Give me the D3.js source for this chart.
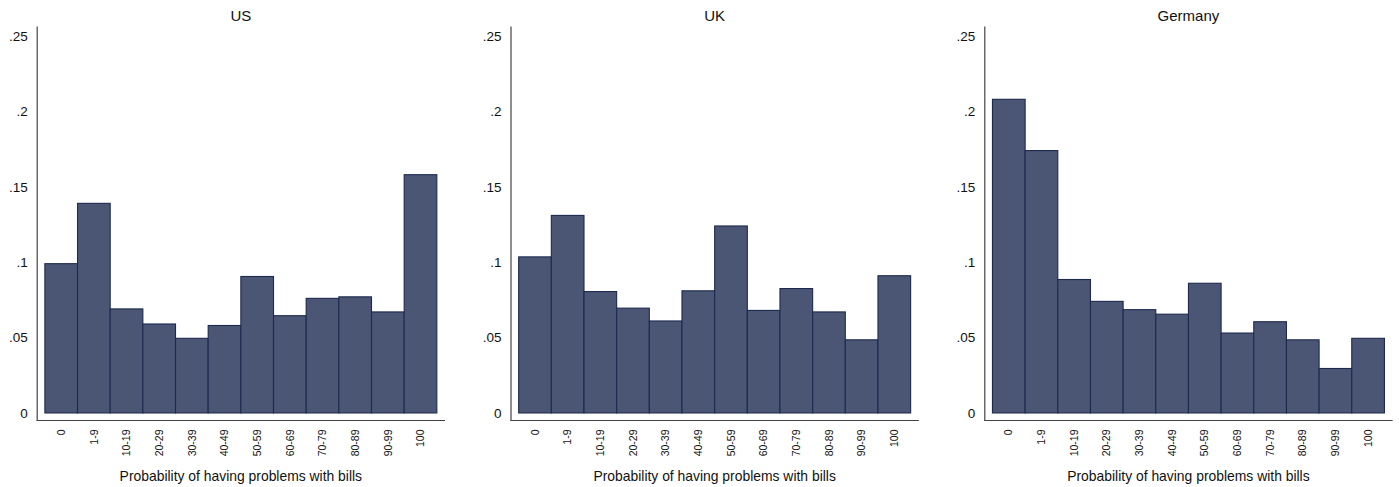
<!DOCTYPE html>
<html>
<head>
<meta charset="utf-8">
<script src="https://cdn.jsdelivr.net/npm/d3@7"></script>
<style>
  html, body { margin: 0; padding: 0; background: #fff; }
  svg { display: block; font-family: "Liberation Sans", Arial, Helvetica, sans-serif; }
</style>
</head>
<body>
<script>
// Share of respondents in each stated-probability bin
const categories = ["0", "1-9", "10-19", "20-29", "30-39", "40-49", "50-59", "60-69", "70-79", "80-89", "90-99", "100"];
const countries = ["US", "UK", "Germany"];
const usValues = [0.099, 0.139, 0.069, 0.059, 0.0495, 0.058, 0.0905, 0.0645, 0.076, 0.077, 0.067, 0.158];
const ukValues = [0.1035, 0.131, 0.0805, 0.0695, 0.061, 0.081, 0.124, 0.068, 0.0825, 0.067, 0.0485, 0.091];
const deValues = [0.208, 0.174, 0.0885, 0.074, 0.0685, 0.0655, 0.086, 0.053, 0.0605, 0.0485, 0.0295, 0.0495];
const yTicks = [0, 0.05, 0.1, 0.15, 0.2, 0.25];
const xTitle = "Probability of having problems with bills";

const seriesByCountry = [usValues, ukValues, deValues];

const W = 1399, H = 487;
const panelStep = 473.8;
const plotLeft = 36.7, plotWidth = 408.3;
const plotTop = 26, plotBottom = 420.5;

const fillColor = "#4b5675";
const edgeColor = "#1d2a4e";
const axisColor = "#444";

const svg = d3.select("body").append("svg")
  .attr("width", W).attr("height", H);

// Y spans slightly past the tick range on both ends
const y = d3.scaleLinear()
  .domain([-0.005, 0.2566])
  .range([plotBottom, plotTop]);

const fmt = v => v === 0 ? "0" : d3.format("")(v).replace(/^0\./, ".");

countries.forEach((name, i) => {
  const values = seriesByCountry[i];
  const g = svg.append("g")
    .attr("transform", `translate(${plotLeft + i * panelStep},0)`);

  const x = d3.scaleBand()
    .domain(categories)
    .range([0, plotWidth])
    .paddingInner(0)
    .paddingOuter(0.25);

  // bars
  g.append("g").selectAll("rect")
    .data(values)
    .join("rect")
    .attr("x", (d, j) => x(categories[j]))
    .attr("y", d => y(d))
    .attr("width", x.bandwidth())
    .attr("height", d => y(0) - y(d))
    .attr("fill", fillColor)
    .attr("stroke", edgeColor)
    .attr("stroke-width", 1.1);

  // y axis
  const yAxis = d3.axisLeft(y).tickValues(yTicks).tickFormat(fmt).tickSize(0).tickPadding(9);
  const ya = g.append("g").call(yAxis);
  ya.select(".domain").attr("stroke", axisColor).attr("stroke-width", 1.2);
  ya.selectAll("text").attr("font-size", 13.5).attr("fill", "#111")
    .attr("font-family", "Liberation Sans, Arial, sans-serif");

  // x axis
  const xAxis = d3.axisBottom(x).tickSize(0).tickPadding(0);
  const xa = g.append("g").attr("transform", `translate(0,${plotBottom})`).call(xAxis);
  xa.select(".domain").attr("d", `M0,0H${plotWidth}`)
    .attr("stroke", axisColor).attr("stroke-width", 1.2);
  xa.selectAll("text")
    .attr("font-size", 10.5)
    .attr("fill", "#111")
    .attr("font-family", "Liberation Sans, Arial, sans-serif")
    .attr("transform", "rotate(-90)")
    .attr("text-anchor", "end")
    .attr("x", -9)
    .attr("y", 0)
    .attr("dy", "0.35em");

  // panel title
  g.append("text")
    .attr("x", plotWidth / 2)
    .attr("y", 20.5)
    .attr("text-anchor", "middle")
    .attr("font-size", 15)
    .attr("fill", "#111")
    .text(name);

  // x axis title
  g.append("text")
    .attr("x", plotWidth / 2)
    .attr("y", 481)
    .attr("text-anchor", "middle")
    .attr("font-size", 13.9)
    .attr("fill", "#111")
    .text(xTitle);
});
</script>
</body>
</html>
